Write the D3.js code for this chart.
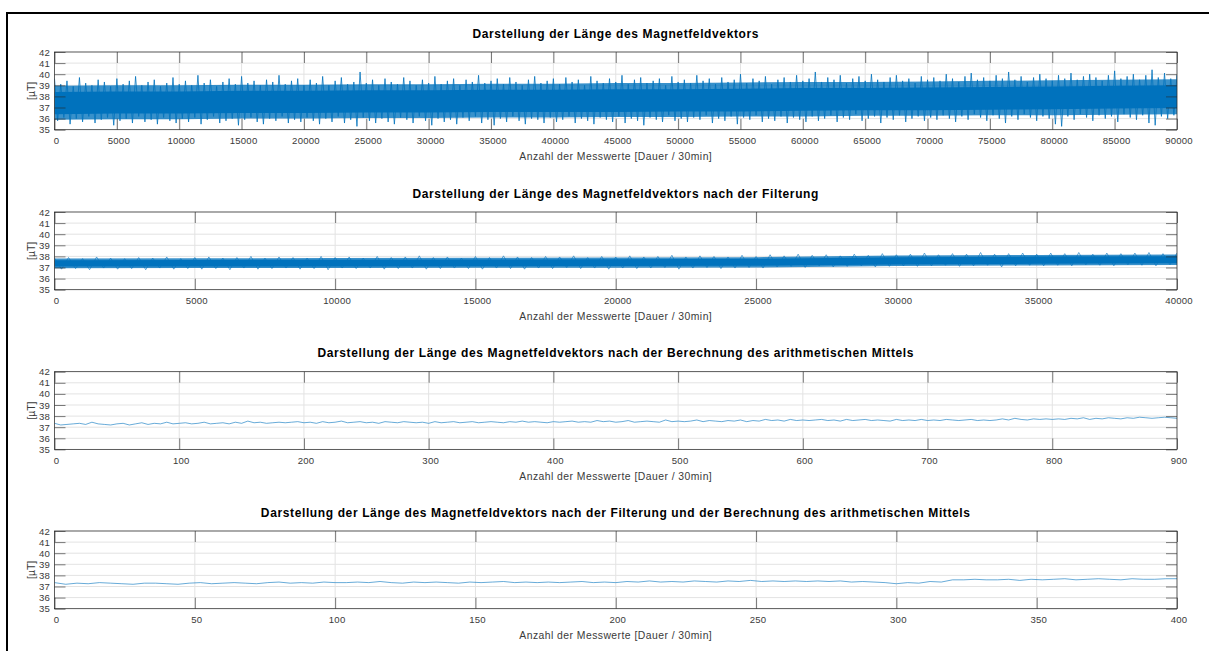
<!DOCTYPE html>
<html>
<head>
<meta charset="utf-8">
<script src="https://cdn.jsdelivr.net/npm/d3@7"></script>
<style>
  body { margin: 0; background: #fff; }
  svg { display: block; font-family: "Liberation Sans", Arial, sans-serif; }
  .tick text { fill: #3a3a3a; font-size: 9.6px; letter-spacing: 0.2px; }
</style>
</head>
<body>
<div id="chart"></div>
<script>
// Panel titles and axis text.
var titles = [
  "Darstellung der Länge des Magnetfeldvektors",
  "Darstellung der Länge des Magnetfeldvektors nach der Filterung",
  "Darstellung der Länge des Magnetfeldvektors nach der Berechnung des arithmetischen Mittels",
  "Darstellung der Länge des Magnetfeldvektors nach der Filterung und der Berechnung des arithmetischen Mittels"
];
var xLabel = "Anzahl der Messwerte [Dauer / 30min]";
var yLabel = "[µT]";
var yTicks = [35, 36, 37, 38, 39, 40, 41, 42];

// x extent and tick step per panel
var xMax = [90000, 40000, 900, 400];
var xTickStep = [5000, 5000, 100, 50];

// Panel 1: raw signal. Spike tips (upper / lower) every 500 samples,
// solid core and half-dense zone every 5000 samples, all read off the picture.
var p1Step = 500;
var p1Hi = [39.6,39.1,39.4,38.9,39.7,39.2,39.0,39.5,39.3,38.9,39.6,39.1,39.4,39.8,39.0,39.3,39.5,38.9,39.2,39.7,39.1,
  39.4,39.0,39.9,39.2,39.5,38.9,39.3,39.6,39.1,39.8,39.2,39.4,39.0,39.5,39.3,39.9,39.1,39.4,39.6,39.0,
  39.5,39.2,39.8,39.0,39.4,39.7,39.1,39.3,40.2,39.2,39.5,39.0,39.6,39.3,39.1,39.7,39.4,39.0,39.5,39.2,
  39.8,39.1,39.4,39.6,39.0,39.5,39.3,39.9,39.2,39.4,39.6,39.1,39.7,39.3,39.0,39.5,39.8,39.2,39.4,39.6,
  39.1,39.7,39.3,39.5,39.0,39.8,39.4,39.2,39.6,39.3,39.9,39.1,39.5,39.7,39.2,39.4,39.6,39.0,39.8,39.3,
  39.5,39.2,39.9,39.4,39.6,39.1,39.7,39.3,39.5,40.0,39.2,39.6,39.4,39.8,39.1,39.5,39.7,39.3,39.9,39.4,
  39.6,40.2,39.3,39.7,39.5,39.9,39.2,39.6,39.8,39.4,40.0,39.5,39.3,39.7,39.9,39.4,39.6,39.2,39.8,39.5,
  39.7,39.4,40.0,39.6,39.3,39.8,40.1,39.5,39.7,39.4,39.9,39.6,40.2,39.5,39.8,39.3,39.7,40.0,39.6,39.4,
  39.9,39.6,40.1,39.5,39.8,40.0,39.7,39.4,39.9,40.3,39.6,39.8,40.0,39.5,39.9,40.4,39.7,40.1,39.6,39.9];
var p1Lo = [35.8,36.1,35.5,36.0,35.7,36.2,35.6,35.9,36.1,35.4,35.8,36.0,35.6,36.2,35.7,35.9,35.5,36.1,35.8,35.6,36.0,
  35.7,36.1,35.5,35.9,36.2,35.6,35.8,36.0,35.4,35.9,36.1,35.7,35.5,36.0,35.8,36.2,35.6,35.9,35.7,36.1,
  35.8,35.5,36.0,35.7,36.2,35.6,35.9,35.3,36.1,35.8,35.6,36.0,35.7,35.5,36.1,35.9,35.6,36.2,35.8,35.4,
  36.0,35.7,35.9,35.5,36.1,35.8,36.2,35.6,35.9,35.4,36.0,35.7,36.2,35.8,35.5,36.0,35.9,35.6,36.1,35.7,
  35.9,36.2,35.6,36.0,35.8,35.5,36.1,35.9,35.7,36.2,35.6,36.0,35.8,35.4,36.1,35.9,35.7,36.3,35.8,36.0,
  35.7,36.1,35.9,36.3,35.6,36.0,35.8,36.2,35.5,36.1,35.9,36.3,35.7,36.0,35.8,36.2,35.6,36.1,35.9,35.7,
  36.2,35.8,36.0,36.3,35.7,36.1,35.9,36.4,35.8,36.0,36.2,35.6,36.1,35.9,36.3,35.7,36.0,36.2,35.8,36.1,
  35.9,36.3,36.0,35.7,36.2,35.9,36.4,36.1,35.8,36.3,36.0,35.6,36.2,35.9,36.4,36.1,35.8,36.2,36.0,35.5,
  35.3,36.2,35.9,36.4,36.1,35.8,36.3,36.0,36.2,35.7,36.4,36.1,35.9,36.3,35.6,35.4,36.2,36.0,36.3,36.1];
var p1BandStep = 5000;
var p1CoreHi = [38.4,38.45,38.45,38.5,38.5,38.55,38.55,38.6,38.6,38.65,38.65,38.7,38.75,38.75,38.8,38.85,38.9,38.95,39.0];
var p1CoreLo = [36.4,36.45,36.45,36.5,36.5,36.55,36.55,36.6,36.6,36.6,36.65,36.65,36.7,36.75,36.75,36.8,36.85,36.9,36.95];
var p1MidHi = [38.95,39.0,39.0,39.05,39.05,39.1,39.1,39.15,39.15,39.2,39.2,39.25,39.3,39.3,39.35,39.4,39.45,39.5,39.55];
var p1MidLo = [35.9,35.95,35.95,36.0,36.0,36.05,36.05,36.1,36.1,36.15,36.15,36.2,36.2,36.25,36.25,36.3,36.3,36.35,36.4];

// Panel 2: filtered signal, spike tips every 500 samples, bands every 5000.
var p2Step = 500;
var p2Hi = [37.85,37.9,37.8,37.95,37.85,37.8,37.9,37.85,37.95,37.8,37.9,
  37.95,37.85,37.9,38.0,37.85,37.95,37.9,37.85,38.0,37.9,
  37.95,37.85,38.0,37.9,37.95,38.05,37.9,37.95,37.85,38.0,
  37.9,38.05,37.95,37.9,38.0,37.95,38.05,37.9,38.0,37.95,
  38.05,37.95,38.0,38.1,37.95,38.05,38.0,37.95,38.1,38.0,
  38.15,38.05,38.2,38.1,38.15,38.05,38.2,38.1,38.25,38.15,
  38.2,38.3,38.15,38.25,38.2,38.35,38.2,38.25,38.3,38.2,
  38.3,38.25,38.35,38.2,38.3,38.25,38.3,38.35,38.25,38.3];
var p2Lo = [36.85,36.9,36.8,36.95,36.85,36.9,36.8,36.95,36.85,36.9,36.85,
  36.9,36.8,36.95,36.85,36.9,36.95,36.85,36.9,36.8,36.95,
  36.9,36.95,36.85,36.9,36.95,36.85,36.9,36.95,36.9,36.85,
  36.95,36.9,36.85,36.95,36.9,37.0,36.9,36.95,36.85,36.95,
  36.9,36.95,37.0,36.85,36.95,37.0,36.9,36.95,37.0,36.95,
  37.05,37.1,37.0,37.15,37.05,37.1,37.15,37.05,37.1,37.15,
  37.1,37.15,37.2,37.1,37.15,37.2,37.05,37.15,37.2,37.15,
  37.2,37.15,37.25,37.2,37.15,37.25,37.2,37.15,37.25,37.2];
var p2BandStep = 5000;
var p2CoreHi = [37.65,37.68,37.7,37.72,37.75,37.78,37.92,37.98,38.02];
var p2CoreLo = [37.08,37.1,37.1,37.12,37.13,37.15,37.28,37.33,37.38];
var p2MidHi = [37.8,37.83,37.85,37.87,37.9,37.93,38.07,38.13,38.17];
var p2MidLo = [36.93,36.95,36.95,36.97,36.98,37.0,37.13,37.18,37.23];

// Panel 3: arithmetic mean, every 5 samples.
var p3Step = 5;
var p3 = [37.35,37.2,37.25,37.3,37.35,37.25,37.45,37.3,37.25,37.2,37.3,37.35,37.2,37.3,37.4,37.25,37.35,37.3,37.45,37.3,37.35,
  37.4,37.3,37.35,37.45,37.3,37.35,37.4,37.3,37.45,37.35,37.55,37.4,37.45,37.35,37.4,37.45,37.4,37.45,37.5,37.4,
  37.45,37.35,37.5,37.4,37.45,37.55,37.4,37.45,37.5,37.4,37.45,37.35,37.5,37.45,37.4,37.5,37.45,37.4,37.45,37.35,
  37.5,37.4,37.45,37.5,37.4,37.45,37.5,37.4,37.45,37.5,37.45,37.4,37.5,37.45,37.55,37.45,37.5,37.45,37.4,37.5,
  37.45,37.5,37.55,37.45,37.5,37.45,37.6,37.5,37.55,37.45,37.5,37.6,37.45,37.5,37.55,37.5,37.45,37.65,37.5,37.55,
  37.5,37.55,37.65,37.5,37.6,37.55,37.5,37.6,37.55,37.65,37.5,37.6,37.55,37.7,37.6,37.65,37.55,37.7,37.6,37.65,
  37.6,37.65,37.7,37.6,37.65,37.55,37.7,37.6,37.65,37.7,37.6,37.65,37.6,37.55,37.7,37.6,37.65,37.6,37.7,37.6,
  37.65,37.6,37.7,37.65,37.6,37.65,37.7,37.6,37.65,37.6,37.65,37.75,37.65,37.8,37.7,37.65,37.75,37.7,37.75,37.7,
  37.75,37.7,37.8,37.75,37.85,37.7,37.8,37.75,37.85,37.8,37.75,37.85,37.8,37.9,37.85,37.8,37.85,37.9,37.85,37.8];

// Panel 4: filtered and averaged, every 4 samples.
var p4Step = 4;
var p4 = [37.35,37.2,37.3,37.25,37.35,37.3,37.25,37.2,37.3,37.3,37.25,37.2,37.3,37.35,37.25,37.3,37.35,37.3,37.25,37.35,37.4,37.3,37.35,37.3,37.4,37.35,
  37.35,37.4,37.35,37.45,37.35,37.3,37.4,37.35,37.4,37.35,37.3,37.4,37.35,37.4,37.45,37.35,37.4,37.35,37.4,37.35,37.4,37.45,37.35,37.4,37.35,
  37.45,37.4,37.5,37.4,37.45,37.4,37.5,37.45,37.4,37.5,37.45,37.55,37.45,37.5,37.45,37.5,37.45,37.5,37.45,37.5,37.4,37.45,37.4,37.35,37.25,
  37.35,37.3,37.45,37.4,37.6,37.6,37.65,37.6,37.6,37.65,37.55,37.65,37.6,37.65,37.7,37.6,37.65,37.7,37.65,37.6,37.7,37.65,37.65,37.7,37.7];

// Layout
var width = 1209, height = 651,
    plotLeft = 54.5, plotRight = 1177,
    plotTops = [52, 212, 371.7, 531],
    plotHeight = 77.7,
    tickLen = 11,
    lineColor = "#0072BD";

var svg = d3.select("#chart").append("svg")
  .attr("width", width)
  .attr("height", height);

// figure border
svg.append("rect")
  .attr("x", 7).attr("y", 13)
  .attr("width", width).attr("height", height)
  .attr("fill", "none")
  .attr("stroke", "#000")
  .attr("stroke-width", 2);

// builds alternating hi/lo points so dense noise shows as spikes
function zigzag(hi, lo, step){
  var pts = [];
  hi.forEach(function (v, i){
    pts.push([i * step, v]);
    if (i < lo.length) pts.push([i * step + step / 2, lo[i]]);
  });
  return pts;
}

function drawPanel(k){
  var top = plotTops[k],
      bottom = top + plotHeight;

  var x = d3.scaleLinear().domain([0, xMax[k]]).range([plotLeft, plotRight]),
      y = d3.scaleLinear().domain([35, 42]).range([bottom, top]);
  var xTicks = d3.range(0, xMax[k] + 1, xTickStep[k]);

  var g = svg.append("g");

  g.append("clipPath").attr("id", "clip" + k)
    .append("rect")
      .attr("x", plotLeft).attr("y", top)
      .attr("width", plotRight - plotLeft).attr("height", plotHeight);

  // grid
  g.append("g").selectAll("line").data(xTicks).enter().append("line")
    .attr("x1", x).attr("x2", x)
    .attr("y1", top).attr("y2", bottom)
    .attr("stroke", "#e3e3e3").attr("stroke-width", 1);
  g.append("g").selectAll("line").data(yTicks).enter().append("line")
    .attr("x1", plotLeft).attr("x2", plotRight)
    .attr("y1", y).attr("y2", y)
    .attr("stroke", "#e3e3e3").attr("stroke-width", 1);

  // data
  var plot = g.append("g").attr("clip-path", "url(#clip" + k + ")");
  var line = d3.line()
    .x(function (d){ return x(d[0]); })
    .y(function (d){ return y(d[1]); });

  if (k < 2){
    var coreHi = k === 0 ? p1CoreHi : p2CoreHi,
        coreLo = k === 0 ? p1CoreLo : p2CoreLo,
        midHi = k === 0 ? p1MidHi : p2MidHi,
        midLo = k === 0 ? p1MidLo : p2MidLo,
        bandStep = k === 0 ? p1BandStep : p2BandStep,
        hi = k === 0 ? p1Hi : p2Hi,
        lo = k === 0 ? p1Lo : p2Lo,
        step = k === 0 ? p1Step : p2Step;

    function band(upper, lower){
      return d3.area()
        .x(function (d, i){ return x(i * bandStep); })
        .y0(function (d, i){ return y(lower[i]); })
        .y1(function (d){ return y(d); })(upper);
    }

    // half-dense zone, spikes, then the solid core
    plot.append("path")
      .attr("d", band(midHi, midLo))
      .attr("fill", lineColor)
      .attr("fill-opacity", 0.78);

    plot.append("path")
      .attr("d", line(zigzag(hi, lo, step)))
      .attr("fill", "none")
      .attr("stroke", lineColor)
      .attr("stroke-width", k === 0 ? 0.8 : 0.6);

    plot.append("path")
      .attr("d", band(coreHi, coreLo))
      .attr("fill", lineColor);
  } else {
    var vals = k === 2 ? p3 : p4,
        st = k === 2 ? p3Step : p4Step;
    plot.append("path")
      .attr("d", line(vals.map(function (v, i){ return [i * st, v]; })))
      .attr("fill", "none")
      .attr("stroke", lineColor)
      .attr("stroke-width", 0.6);
  }

  // axes: ticks point inward on all four sides
  var fmt = d3.format("d");
  var axB = g.append("g").attr("transform", "translate(0," + bottom + ")")
    .call(d3.axisBottom(x).tickValues(xTicks).tickSize(-tickLen).tickPadding(7.5).tickFormat(fmt));
  var axT = g.append("g").attr("transform", "translate(0," + top + ")")
    .call(d3.axisTop(x).tickValues(xTicks).tickSize(-tickLen).tickFormat(""));
  var axL = g.append("g").attr("transform", "translate(" + plotLeft + ",0)")
    .call(d3.axisLeft(y).tickValues(yTicks).tickSize(-tickLen).tickPadding(4.5).tickFormat(fmt));
  var axR = g.append("g").attr("transform", "translate(" + plotRight + ",0)")
    .call(d3.axisRight(y).tickValues(yTicks).tickSize(-tickLen).tickFormat(""));

  [axB, axT, axL, axR].forEach(function (a){
    a.select(".domain").remove();
    a.selectAll("line").attr("stroke", "#262626").attr("stroke-width", 0.6);
    a.selectAll("text").attr("font-family", "Liberation Sans, Arial, sans-serif");
  });
  axB.selectAll("text").attr("dx", 1.5);

  // box
  g.append("rect")
    .attr("x", plotLeft).attr("y", top)
    .attr("width", plotRight - plotLeft).attr("height", plotHeight)
    .attr("fill", "none")
    .attr("stroke", "#262626")
    .attr("stroke-width", 0.7);

  // title
  g.append("text")
    .attr("x", (plotLeft + plotRight) / 2)
    .attr("y", top - 14.5)
    .attr("text-anchor", "middle")
    .attr("font-size", "12px")
    .attr("font-weight", "bold")
    .attr("letter-spacing", "0.62px")
    .attr("fill", "#000")
    .text(titles[k]);

  // x label
  g.append("text")
    .attr("x", (plotLeft + plotRight) / 2)
    .attr("y", bottom + 30.5)
    .attr("text-anchor", "middle")
    .attr("font-size", "10.4px")
    .attr("letter-spacing", "0.45px")
    .attr("fill", "#3a3a3a")
    .text(xLabel);

  // y label
  g.append("text")
    .attr("transform", "translate(34.5," + (top + plotHeight / 2) + ") rotate(-90)")
    .attr("text-anchor", "middle")
    .attr("font-size", "10.4px")
    .attr("fill", "#3a3a3a")
    .text(yLabel);
}

for (var k = 0; k < 4; k++) drawPanel(k);
</script>
</body>
</html>
